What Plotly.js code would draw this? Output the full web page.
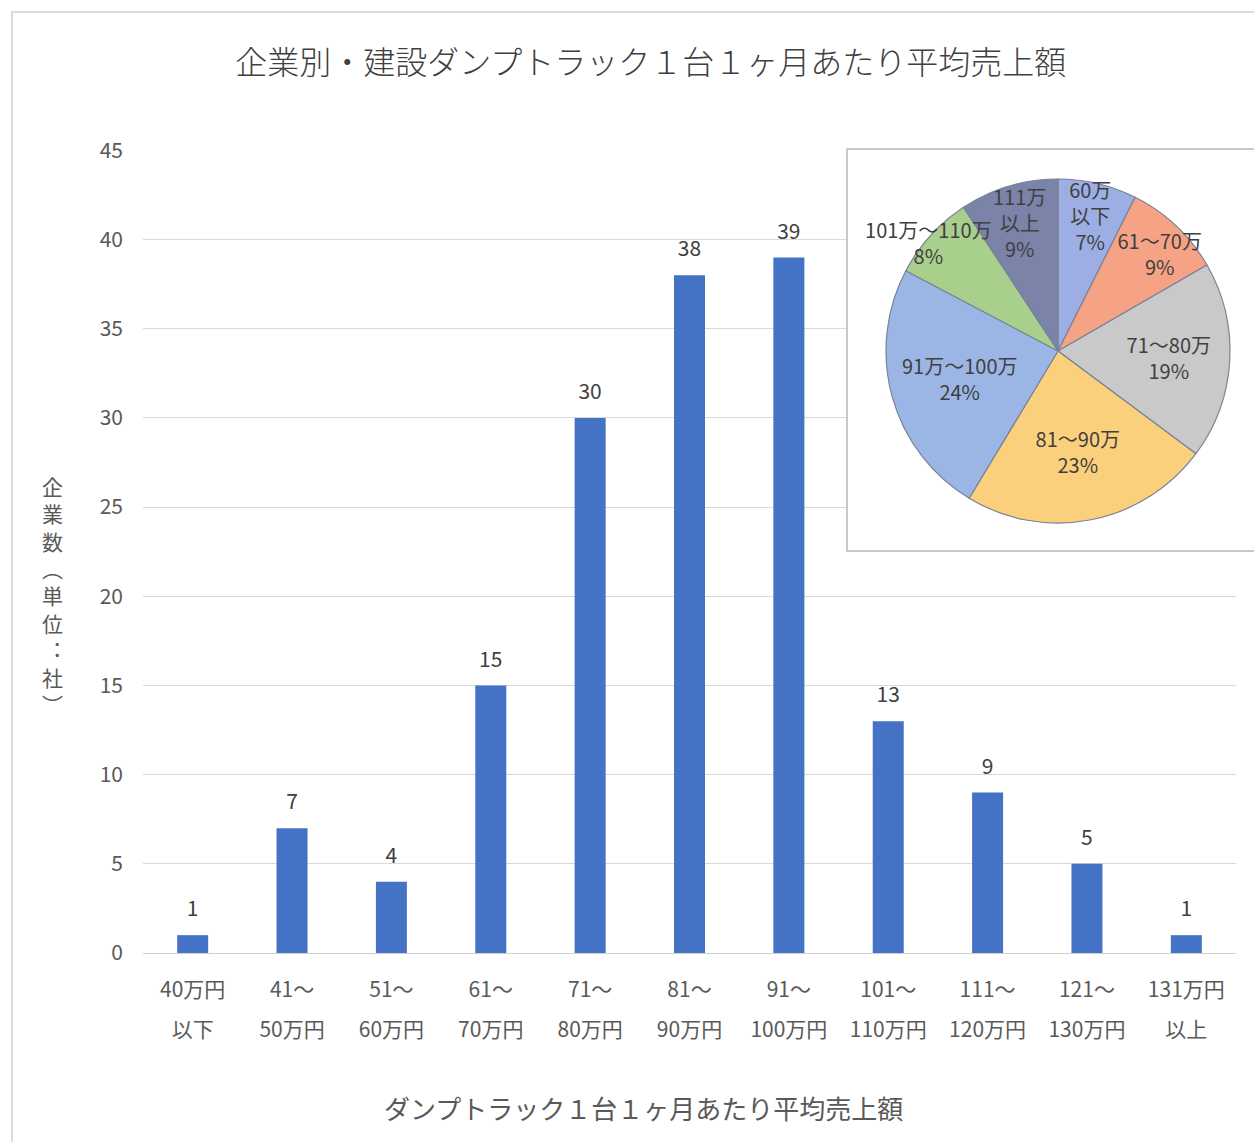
<!DOCTYPE html>
<html>
<head>
<meta charset="utf-8">
<script src="https://cdn.plot.ly/plotly-3.0.1.min.js"></script>
<style>html,body{margin:0;padding:0;background:#fff;}#chart{width:1254px;height:1142px;}</style>
</head>
<body>
<div id="chart"></div>
<script>
// ---- data ----
const categories = ["40万円以下","41～50万円","51～60万円","61～70万円","71～80万円","81～90万円","91～100万円","101～110万円","111～120万円","121～130万円","131万円以上"];
const tickLine1 = ["40万円","41～","51～","61～","71～","81～","91～","101～","111～","121～","131万円"];
const tickLine2 = ["以下","50万円","60万円","70万円","80万円","90万円","100万円","110万円","120万円","130万円","以上"];
const companyCounts = [1, 7, 4, 15, 30, 38, 39, 13, 9, 5, 1];

const pieLabels = ["60万<br>以下","61～70万","71～80万","81～90万","91万～100万","101万～110万","111万<br>以上"];
const pieValues = [12, 15, 30, 38, 39, 13, 15];
const pieColors = ["#9caee4","#f6a385","#c9c9c9","#fbd07c","#9bb6e5","#a9cf8d","#7b83a9"];

const chartTitle = "企業別・建設ダンプトラック１台１ヶ月あたり平均売上額";
const xTitle = "ダンプトラック１台１ヶ月あたり平均売上額";
const yTitleChars = ["企","業","数","︵","単","位","︓","社","︶"];

// ---- layout helpers (pixel -> paper fraction) ----
const FONT = '"Noto Sans CJK JP", "Noto Sans", sans-serif';
const TXT = "#595959";
const M = {l: 100, r: 0, t: 150, b: 189};
const PW = 1254 - M.l - M.r, PH = 1142 - M.t - M.b;
const fx = p => (p - M.l) / PW;
const fy = p => (1142 - M.b - p) / PH;

const pieCx = 1058, pieCy = 351, pieR = 172;
const labelPull = [0, 0, 0, 0, 0, 0.139, 0];   // label offset for the narrow slice
const maxPull = Math.max(...labelPull);
const pieDomain = {x: [fx(pieCx - pieR), fx(pieCx + pieR)], y: [fy(pieCy + pieR), fy(pieCy - pieR)]};
const hR = pieR * (1 + maxPull);
const labelDomain = {x: [fx(pieCx - hR), Math.min(1, fx(pieCx + hR))], y: [fy(pieCy + hR), fy(pieCy - hR)]};
// invisible ideographic spaces nudge a few labels sideways, as in the original
const SP = "\u3000";
const labelTpl = pieLabels.map((_, i) => {
  if (i === 1) return SP + "%{label}<br>" + SP + "%{percent:.0%}";
  if (i === 5) return "%{label}" + SP + "<br>%{percent:.0%}" + SP;
  return "%{label}<br>%{percent:.0%}";
});

const traces = [
  {
    type: "bar", x: categories, y: companyCounts,
    marker: {color: "#4472c4"},
    hoverinfo: "x+y", showlegend: false
  },
  {
    type: "scatter", mode: "markers+text", x: categories, y: companyCounts,
    text: companyCounts.map(String), textposition: "top center",
    textfont: {family: FONT, size: 21, color: "#404040"},
    marker: {size: 20, opacity: 0}, hoverinfo: "skip", showlegend: false, cliponaxis: false
  },
  {
    type: "bar", x: categories, y: companyCounts, xaxis: "x2",
    marker: {color: "rgba(0,0,0,0)"}, hoverinfo: "skip", showlegend: false
  },
  {
    // empty trace so that the inset frame subplot exists
    type: "scatter", x: [], y: [], xaxis: "x3", yaxis: "y3",
    hoverinfo: "skip", showlegend: false
  },
  {
    // coloured slices
    type: "pie", labels: pieLabels, values: pieValues, sort: false,
    direction: "clockwise", rotation: 0, domain: pieDomain,
    marker: {colors: pieColors, line: {color: "#7a8296", width: 1.2}},
    textinfo: "none", hoverinfo: "label+percent", showlegend: false
  },
  {
    // transparent copy carrying the labels, so no label is hidden by a later slice
    type: "pie", labels: pieLabels, values: pieValues, sort: false,
    direction: "clockwise", rotation: 0, domain: labelDomain, pull: labelPull,
    marker: {colors: pieValues.map(() => "rgba(0,0,0,0)"), line: {width: 0}},
    texttemplate: labelTpl,
    textposition: "inside", insidetextorientation: "horizontal",
    textfont: {family: FONT, size: 20, color: "#404040"},
    hoverinfo: "skip", showlegend: false
  }
];

const layout = {
  width: 1254, height: 1142,
  paper_bgcolor: "#fff", plot_bgcolor: "#fff",
  margin: M,
  font: {family: FONT, color: TXT},
  uniformtext: {mode: "show", minsize: 20},
  title: {
    text: chartTitle, font: {family: FONT, size: 32, color: "#404040", weight: 300},
    x: 0.519, xref: "container", xanchor: "center",
    y: 1 - 63/1142, yref: "container", yanchor: "middle"
  },
  bargap: 0.688,
  xaxis: {
    domain: [fx(143), fx(1236)],
    type: "category", tickmode: "array", tickvals: categories, ticktext: tickLine1,
    range: [-0.5, 10.5], autorange: false,
    ticks: "", showgrid: false, zeroline: false, showline: false,
    tickfont: {family: FONT, size: 21, color: TXT}, ticklabelstandoff: 22
  },
  xaxis2: {
    domain: [fx(143), fx(1236)],
    type: "category", overlaying: "x", anchor: "y", side: "bottom",
    range: [-0.5, 10.5], autorange: false,
    tickmode: "array", tickvals: categories, ticktext: tickLine2,
    ticks: "", showgrid: false, zeroline: false, showline: false,
    tickfont: {family: FONT, size: 21, color: TXT}, ticklabelstandoff: 62
  },
  yaxis: {
    anchor: "x",
    range: [0, 45.02], autorange: false, dtick: 5, tick0: 0,
    showgrid: true, gridcolor: "#d9d9d9", gridwidth: 1,
    zeroline: true, zerolinecolor: "#d0d0d0", zerolinewidth: 1,
    showline: false, ticks: "",
    tickfont: {family: FONT, size: 21, color: TXT}, ticklabelstandoff: 19
  },
  xaxis3: {
    domain: [fx(848), 1], anchor: "y3", range: [0, 1], autorange: false,
    showline: true, mirror: true, linecolor: "#c8c8c8", linewidth: 1.5,
    showgrid: false, zeroline: false, showticklabels: false, ticks: "", fixedrange: true
  },
  yaxis3: {
    domain: [fy(550), fy(150)], anchor: "x3", range: [0, 1], autorange: false,
    showline: true, linecolor: "#c8c8c8", linewidth: 1.5,
    showgrid: false, zeroline: false, showticklabels: false, ticks: "", fixedrange: true
  },
  shapes: [
    {type: "rect", xref: "paper", yref: "paper", x0: fx(12), x1: fx(1280), y0: fy(1170), y1: fy(12),
     fillcolor: "rgba(0,0,0,0)", line: {color: "#cfcfcf", width: 1.5}, layer: "above"}
  ],
  annotations: [
    {text: yTitleChars.join("<br>"), xref: "paper", yref: "paper", x: fx(52), y: fy(595),
     xanchor: "center", yanchor: "middle", showarrow: false,
     font: {family: FONT, size: 21, color: TXT}},
    {text: xTitle, xref: "paper", yref: "paper", x: fx(643), y: fy(1107),
     xanchor: "center", yanchor: "middle", showarrow: false,
     font: {family: FONT, size: 26, color: TXT}}
  ]
};

Plotly.newPlot("chart", traces, layout, {displayModeBar: false, responsive: false});
</script>
</body>
</html>
